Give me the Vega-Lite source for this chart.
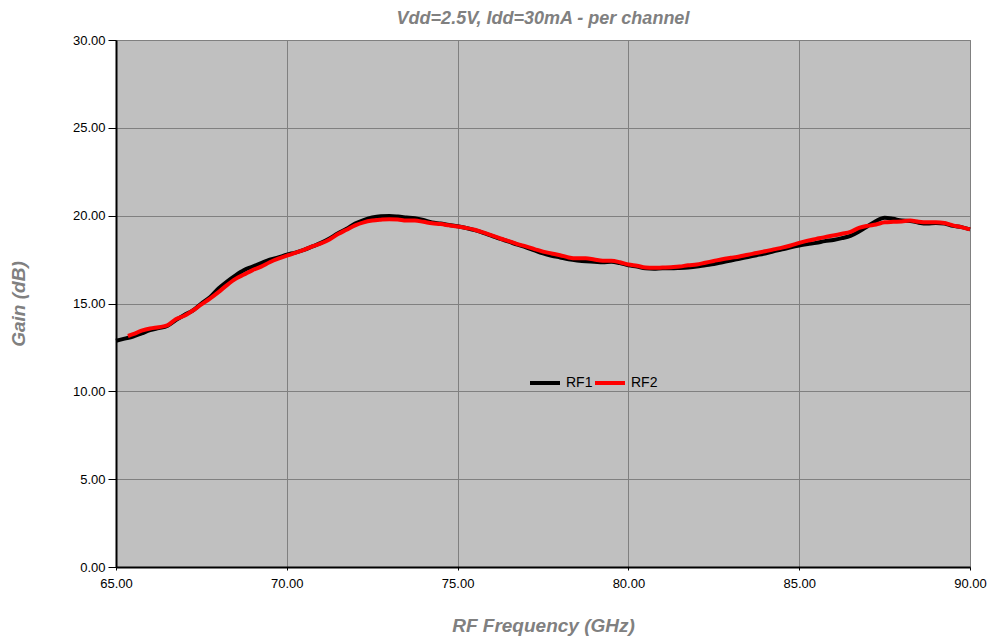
{
  "$schema": "https://vega.github.io/schema/vega-lite/v6.json",
  "width": 854,
  "height": 527,
  "autosize": {"type": "none"},
  "padding": {"left": 116, "top": 40, "right": 20, "bottom": 72},
  "background": "#ffffff",
  "title": {
    "text": "Vdd=2.5V, Idd=30mA - per channel",
    "font": "Liberation Sans",
    "fontSize": 18,
    "fontStyle": "italic",
    "fontWeight": "bold",
    "color": "#808080",
    "anchor": "middle",
    "offset": 6
  },
  "config": {
    "view": {"fill": "#c0c0c0", "stroke": "#808080", "strokeWidth": 1},
    "font": "Liberation Sans"
  },
  "datasets": {
    "rf1": [
      {"f": 65.0, "g": 12.88}, {"f": 65.25, "g": 13.0}, {"f": 65.5, "g": 13.12}, {"f": 65.75, "g": 13.3},
      {"f": 66.0, "g": 13.48}, {"f": 66.25, "g": 13.6}, {"f": 66.5, "g": 13.72}, {"f": 66.75, "g": 14.05},
      {"f": 67.0, "g": 14.35}, {"f": 67.25, "g": 14.6}, {"f": 67.5, "g": 15.0}, {"f": 67.75, "g": 15.35},
      {"f": 68.0, "g": 15.85}, {"f": 68.25, "g": 16.25}, {"f": 68.5, "g": 16.6}, {"f": 68.75, "g": 16.9},
      {"f": 69.0, "g": 17.1}, {"f": 69.25, "g": 17.3}, {"f": 69.5, "g": 17.5}, {"f": 69.75, "g": 17.62},
      {"f": 70.0, "g": 17.78}, {"f": 70.25, "g": 17.9}, {"f": 70.5, "g": 18.05}, {"f": 70.75, "g": 18.25},
      {"f": 71.0, "g": 18.45}, {"f": 71.25, "g": 18.7}, {"f": 71.5, "g": 19.0}, {"f": 71.75, "g": 19.25},
      {"f": 72.0, "g": 19.55}, {"f": 72.25, "g": 19.75}, {"f": 72.5, "g": 19.9}, {"f": 72.75, "g": 19.97},
      {"f": 73.0, "g": 19.98}, {"f": 73.25, "g": 19.95}, {"f": 73.5, "g": 19.9}, {"f": 73.75, "g": 19.85},
      {"f": 74.0, "g": 19.75}, {"f": 74.25, "g": 19.62}, {"f": 74.5, "g": 19.55}, {"f": 74.75, "g": 19.47},
      {"f": 75.0, "g": 19.4}, {"f": 75.25, "g": 19.3}, {"f": 75.5, "g": 19.18}, {"f": 75.75, "g": 19.02},
      {"f": 76.0, "g": 18.85}, {"f": 76.25, "g": 18.68}, {"f": 76.5, "g": 18.52}, {"f": 76.75, "g": 18.35},
      {"f": 77.0, "g": 18.2}, {"f": 77.25, "g": 18.02}, {"f": 77.5, "g": 17.85}, {"f": 77.75, "g": 17.72},
      {"f": 78.0, "g": 17.62}, {"f": 78.25, "g": 17.52}, {"f": 78.5, "g": 17.45}, {"f": 78.75, "g": 17.4},
      {"f": 79.0, "g": 17.38}, {"f": 79.25, "g": 17.35}, {"f": 79.5, "g": 17.38}, {"f": 79.75, "g": 17.3},
      {"f": 80.0, "g": 17.18}, {"f": 80.25, "g": 17.1}, {"f": 80.5, "g": 17.0}, {"f": 80.75, "g": 16.98},
      {"f": 81.0, "g": 17.0}, {"f": 81.25, "g": 17.0}, {"f": 81.5, "g": 17.02}, {"f": 81.75, "g": 17.05},
      {"f": 82.0, "g": 17.1}, {"f": 82.25, "g": 17.18}, {"f": 82.5, "g": 17.25}, {"f": 82.75, "g": 17.35},
      {"f": 83.0, "g": 17.45}, {"f": 83.25, "g": 17.55}, {"f": 83.5, "g": 17.65}, {"f": 83.75, "g": 17.75},
      {"f": 84.0, "g": 17.85}, {"f": 84.25, "g": 17.97}, {"f": 84.5, "g": 18.08}, {"f": 84.75, "g": 18.2},
      {"f": 85.0, "g": 18.3}, {"f": 85.25, "g": 18.38}, {"f": 85.5, "g": 18.45}, {"f": 85.75, "g": 18.55},
      {"f": 86.0, "g": 18.62}, {"f": 86.25, "g": 18.72}, {"f": 86.5, "g": 18.85}, {"f": 86.75, "g": 19.1},
      {"f": 87.0, "g": 19.4}, {"f": 87.25, "g": 19.7}, {"f": 87.5, "g": 19.88}, {"f": 87.75, "g": 19.82},
      {"f": 88.0, "g": 19.72}, {"f": 88.25, "g": 19.7}, {"f": 88.5, "g": 19.6}, {"f": 88.75, "g": 19.55},
      {"f": 89.0, "g": 19.58}, {"f": 89.25, "g": 19.55}, {"f": 89.5, "g": 19.42}, {"f": 89.75, "g": 19.35},
      {"f": 90.0, "g": 19.22}
    ],
    "rf2": [
      {"f": 65.35, "g": 13.15}, {"f": 65.5, "g": 13.25}, {"f": 65.75, "g": 13.45},
      {"f": 66.0, "g": 13.58}, {"f": 66.25, "g": 13.65}, {"f": 66.5, "g": 13.75}, {"f": 66.75, "g": 14.1},
      {"f": 67.0, "g": 14.3}, {"f": 67.25, "g": 14.6}, {"f": 67.5, "g": 14.95}, {"f": 67.75, "g": 15.28},
      {"f": 68.0, "g": 15.65}, {"f": 68.25, "g": 16.05}, {"f": 68.5, "g": 16.4}, {"f": 68.75, "g": 16.65},
      {"f": 69.0, "g": 16.9}, {"f": 69.25, "g": 17.1}, {"f": 69.5, "g": 17.35}, {"f": 69.75, "g": 17.55},
      {"f": 70.0, "g": 17.72}, {"f": 70.25, "g": 17.88}, {"f": 70.5, "g": 18.05}, {"f": 70.75, "g": 18.25},
      {"f": 71.0, "g": 18.42}, {"f": 71.25, "g": 18.65}, {"f": 71.5, "g": 18.95}, {"f": 71.75, "g": 19.2},
      {"f": 72.0, "g": 19.45}, {"f": 72.25, "g": 19.62}, {"f": 72.5, "g": 19.72}, {"f": 72.75, "g": 19.77},
      {"f": 73.0, "g": 19.8}, {"f": 73.25, "g": 19.78}, {"f": 73.5, "g": 19.72}, {"f": 73.75, "g": 19.72},
      {"f": 74.0, "g": 19.65}, {"f": 74.25, "g": 19.57}, {"f": 74.5, "g": 19.52}, {"f": 74.75, "g": 19.45},
      {"f": 75.0, "g": 19.38}, {"f": 75.25, "g": 19.3}, {"f": 75.5, "g": 19.2}, {"f": 75.75, "g": 19.05},
      {"f": 76.0, "g": 18.88}, {"f": 76.25, "g": 18.7}, {"f": 76.5, "g": 18.55}, {"f": 76.75, "g": 18.38},
      {"f": 77.0, "g": 18.25}, {"f": 77.25, "g": 18.1}, {"f": 77.5, "g": 17.95}, {"f": 77.75, "g": 17.85},
      {"f": 78.0, "g": 17.75}, {"f": 78.25, "g": 17.62}, {"f": 78.5, "g": 17.57}, {"f": 78.75, "g": 17.57},
      {"f": 79.0, "g": 17.5}, {"f": 79.25, "g": 17.43}, {"f": 79.5, "g": 17.43}, {"f": 79.75, "g": 17.35},
      {"f": 80.0, "g": 17.22}, {"f": 80.25, "g": 17.15}, {"f": 80.5, "g": 17.05}, {"f": 80.75, "g": 17.03},
      {"f": 81.0, "g": 17.05}, {"f": 81.25, "g": 17.07}, {"f": 81.5, "g": 17.1}, {"f": 81.75, "g": 17.18},
      {"f": 82.0, "g": 17.22}, {"f": 82.25, "g": 17.32}, {"f": 82.5, "g": 17.42}, {"f": 82.75, "g": 17.52},
      {"f": 83.0, "g": 17.6}, {"f": 83.25, "g": 17.68}, {"f": 83.5, "g": 17.78}, {"f": 83.75, "g": 17.87},
      {"f": 84.0, "g": 17.97}, {"f": 84.25, "g": 18.08}, {"f": 84.5, "g": 18.18}, {"f": 84.75, "g": 18.3},
      {"f": 85.0, "g": 18.45}, {"f": 85.25, "g": 18.58}, {"f": 85.5, "g": 18.68}, {"f": 85.75, "g": 18.78},
      {"f": 86.0, "g": 18.87}, {"f": 86.25, "g": 18.97}, {"f": 86.5, "g": 19.08}, {"f": 86.75, "g": 19.3},
      {"f": 87.0, "g": 19.42}, {"f": 87.25, "g": 19.5}, {"f": 87.5, "g": 19.62}, {"f": 87.75, "g": 19.65},
      {"f": 88.0, "g": 19.67}, {"f": 88.25, "g": 19.72}, {"f": 88.5, "g": 19.65}, {"f": 88.75, "g": 19.62},
      {"f": 89.0, "g": 19.62}, {"f": 89.25, "g": 19.58}, {"f": 89.5, "g": 19.45}, {"f": 89.75, "g": 19.35},
      {"f": 90.0, "g": 19.22}
    ]
  },
  "encoding": {
    "x": {
      "field": "f",
      "type": "quantitative",
      "scale": {"domain": [65, 90], "nice": false, "zero": false},
      "axis": {
        "title": "RF Frequency (GHz)",
        "values": [65, 70, 75, 80, 85, 90],
        "format": ".2f",
        "labelFont": "Liberation Sans",
        "labelFontSize": 13,
        "labelColor": "#000000",
        "labelFlush": false,
        "labelBound": false,
        "labelOverlap": false,
        "labelPadding": 7,
        "ticks": true,
        "tickSize": 3,
        "tickColor": "#000000",
        "domainColor": "#000000",
        "domainWidth": 2,
        "grid": true,
        "gridColor": "#808080",
        "gridWidth": 1,
        "titleFont": "Liberation Sans",
        "titleFontSize": 19,
        "titleFontStyle": "italic",
        "titleFontWeight": "bold",
        "titleColor": "#808080",
        "titlePadding": 26
      }
    },
    "y": {
      "field": "g",
      "type": "quantitative",
      "scale": {"domain": [0, 30], "nice": false},
      "axis": {
        "title": "Gain (dB)",
        "values": [0, 5, 10, 15, 20, 25, 30],
        "format": ".2f",
        "labelFont": "Liberation Sans",
        "labelFontSize": 13,
        "labelColor": "#000000",
        "labelPadding": 3,
        "labelOverlap": false,
        "ticks": true,
        "tickSize": 8,
        "tickColor": "#000000",
        "domainColor": "#000000",
        "domainWidth": 2,
        "grid": true,
        "gridColor": "#808080",
        "gridWidth": 1,
        "titleFont": "Liberation Sans",
        "titleFontSize": 19,
        "titleFontStyle": "italic",
        "titleFontWeight": "bold",
        "titleColor": "#808080",
        "titlePadding": 44
      }
    },
    "color": {
      "scale": {"domain": ["RF1", "RF2"], "range": ["#000000", "#ff0000"]},
      "legend": {
        "title": null,
        "orient": "none",
        "legendX": 412,
        "legendY": 326,
        "direction": "horizontal",
        "symbolType": "stroke",
        "symbolSize": 900,
        "symbolStrokeWidth": 4,
        "labelFont": "Liberation Sans",
        "labelFontSize": 14,
        "labelColor": "#000000",
        "labelOffset": 4,
        "columnPadding": -6,
        "padding": 0
      }
    }
  },
  "layer": [
    {
      "data": {"name": "rf1"},
      "mark": {"type": "line", "strokeWidth": 4, "interpolate": "monotone"},
      "encoding": {"color": {"datum": "RF1"}}
    },
    {
      "data": {"name": "rf2"},
      "mark": {"type": "line", "strokeWidth": 4, "interpolate": "monotone"},
      "encoding": {"color": {"datum": "RF2"}}
    }
  ]
}
